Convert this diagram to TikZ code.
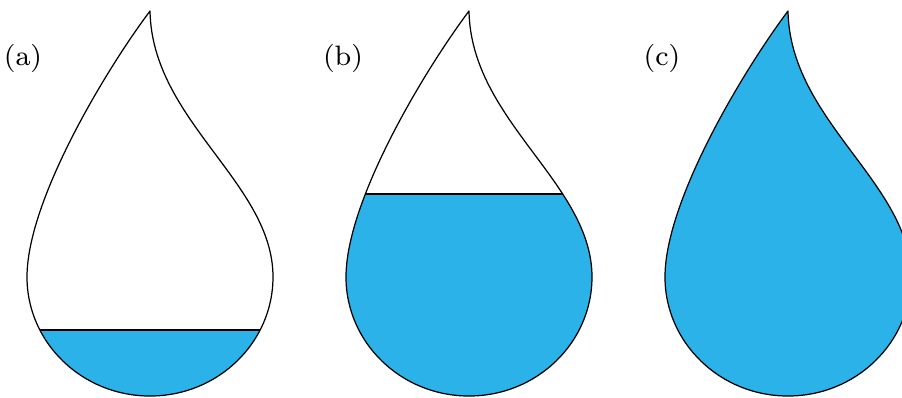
\documentclass[tikz,border=0pt]{standalone}
\begin{document}
\begin{tikzpicture}[line join=round,line cap=round,font=\fontsize{8}{10}\selectfont]
    \definecolor{dropblue}{RGB}{43,178,232}
    \tikzset{pics/drop/.style={code={
            \def\D{
                (0,0) .. controls (-.45,-.6) and (-1.23,-1.9) .. (-1.23,-2.66)
                arc[start angle=180,end angle=360,x radius=1.23,y radius=1.19]
                .. controls (1.23,-1.72) and (.02,-1.1) .. (0,0)
            }
            \begin{scope}
                \clip \D;
                \fill[dropblue] (-1.5,#1) rectangle (1.5,-4);
                \draw[line width=.35pt] (-1.5,#1)--(1.5,#1);
            \end{scope}
            \draw[line width=.35pt] \D;
    }}}
    \useasboundingbox (0,0) rectangle (9.02,-3.97);
    %===============================
    \path (1.5,-.11) pic{drop=-3.19}
          (4.69,-.11) pic{drop=-1.83}
          (7.88,-.11) pic{drop=1};
    \node (la) at (.23,-.58) {(a)};
    \node (lb) at (3.43,-.58) {(b)};
    \node (lc) at (6.62,-.58) {(c)};
\end{tikzpicture}
\end{document}
